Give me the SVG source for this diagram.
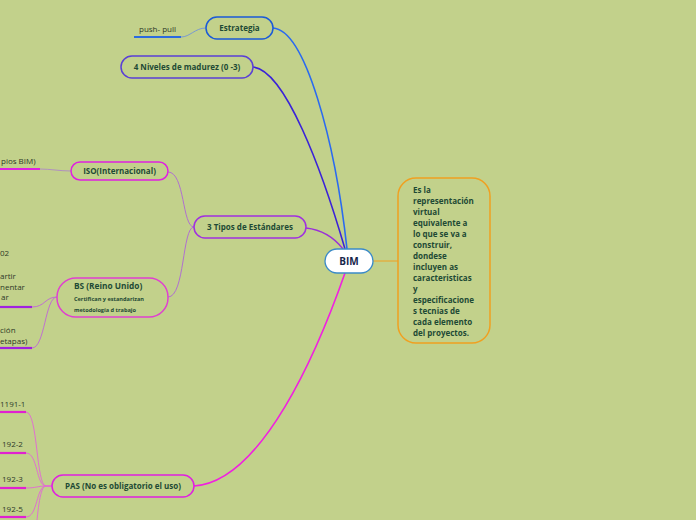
<svg xmlns="http://www.w3.org/2000/svg" width="696" height="520" viewBox="0 0 696 520">
<style>
.node{fill:none;stroke-width:1.5}
.t{font-family:"Open Sans","Noto Sans","Liberation Sans",sans-serif;font-weight:bold;fill:#1e4a35;font-size:8px}
.leaf{font-family:"Open Sans","Noto Sans","Liberation Sans",sans-serif;fill:#2e3a28;font-size:8px}
.c{fill:none}
</style>
<rect width="696" height="520" fill="#c2d18b"/>
<g id="connectors">
<path class="c" d="M273,28 C305,30 335,140 347,249" stroke="#2a6af0" stroke-width="1.6"/>
<path class="c" d="M253,67 C285,70 322,170 345,249" stroke="#3a22d8" stroke-width="1.6"/>
<path class="c" d="M306,228 C324,230 336,240 343,249" stroke="#9a30d8" stroke-width="1.3"/>
<path class="c" d="M194,486 C262,482 318,350 345,273" stroke="#f020e0" stroke-width="1.6"/>
<path class="c" d="M373,261 L398,261" stroke="#f0a020" stroke-width="1"/>
<path class="c" d="M206,28 C195,28 190,37 181,37" stroke="#7a9ad0" stroke-width="1"/>
<path class="c" d="M194,227 C182,227 185,172 168,172" stroke="#b070d0" stroke-width="1"/>
<path class="c" d="M194,227 C182,227 185,297 168,297" stroke="#b070d0" stroke-width="1"/>
<path class="c" d="M71,171 C60,171 50,169 40,169" stroke="#b090c0" stroke-width="1"/>
<path class="c" d="M57,297 C45,297 45,307 32,307" stroke="#c070d0" stroke-width="1"/>
<path class="c" d="M57,297 C45,297 45,348 32,348" stroke="#c070d0" stroke-width="1"/>
<path class="c" d="M52,486 L46,486 C36,486 38,412 26,412" stroke="#e070d0" stroke-width="1"/>
<path class="c" d="M52,486 L46,486 C36,486 38,453 26,453" stroke="#e070d0" stroke-width="1"/>
<path class="c" d="M52,486 L46,486 C38,486 36,488 26,488" stroke="#e070d0" stroke-width="1"/>
<path class="c" d="M52,486 L46,486 C36,486 38,517 26,517" stroke="#e070d0" stroke-width="1"/>
<path class="c" d="M52,486 L46,486 C40,486 38,510 36,530" stroke="#e070d0" stroke-width="1"/>
</g>
<g id="bim">
<rect x="325" y="249" width="48" height="24" rx="12" fill="#ffffff" stroke="#3a8ac8" stroke-width="1.3"/>
<text x="349" y="264.5" text-anchor="middle" font-family="Open Sans, Noto Sans, Liberation Sans, sans-serif" font-weight="bold" font-size="10" fill="#16264a">BIM</text>
</g>
<g id="descripcion">
<rect x="398" y="178" width="92" height="165" rx="18" class="node" stroke="#f0a020"/>
<text class="t" x="413" y="193">Es la</text>
<text class="t" x="413" y="204">representación</text>
<text class="t" x="413" y="215">virtual</text>
<text class="t" x="413" y="226">equivalente a</text>
<text class="t" x="413" y="237">lo que se va a</text>
<text class="t" x="413" y="248">construir,</text>
<text class="t" x="413" y="259">dondese</text>
<text class="t" x="413" y="270">incluyen as</text>
<text class="t" x="413" y="281">caracteristicas</text>
<text class="t" x="413" y="292">y</text>
<text class="t" x="413" y="303">especificacione</text>
<text class="t" x="413" y="314">s tecnias de</text>
<text class="t" x="413" y="325">cada elemento</text>
<text class="t" x="413" y="336">del proyectos.</text>
</g>
<g id="estrategia">
<rect x="206" y="17" width="67" height="22" rx="11" class="node" stroke="#1a5ad8"/>
<text class="t" x="239.5" y="31" text-anchor="middle">Estrategia</text>
</g>
<g id="push-pull">
<line x1="134" y1="37" x2="181" y2="37" stroke="#2a6ae0" stroke-width="2.2"/>
<text class="leaf" x="139" y="32">push- pull</text>
</g>
<g id="niveles">
<rect x="121" y="56" width="132" height="22" rx="11" class="node" stroke="#5a3fd6"/>
<text class="t" x="187" y="70" text-anchor="middle">4 Niveles de madurez (0 -3)</text>
</g>
<g id="tipos">
<rect x="194" y="216" width="112" height="22" rx="11" class="node" stroke="#a030e0"/>
<text class="t" x="250" y="230" text-anchor="middle">3 Tipos de Estándares</text>
</g>
<g id="iso">
<rect x="71" y="162" width="97" height="18" rx="9" class="node" stroke="#e020e0"/>
<text class="t" x="119.5" y="174" text-anchor="middle">ISO(Internacional)</text>
</g>
<g id="iso-hoja">
<line x1="0" y1="169" x2="40" y2="169" stroke="#e020e0" stroke-width="2.2"/>
<text class="leaf" x="1" y="164">pios BIM)</text>
</g>
<g id="bs">
<rect x="57" y="278" width="111" height="39" rx="19" class="node" stroke="#e040d0"/>
<text class="t" x="74" y="289" style="font-size:8.3px">BS (Reino Unido)</text>
<text class="t" x="74" y="301" style="font-size:5.6px">Certifican y estandarizan</text>
<text class="t" x="74" y="312" style="font-size:5.6px">metodología d trabajo</text>
</g>
<g id="bs-hoja-1">
<text class="leaf" x="0" y="256">02</text>
<text class="leaf" x="0" y="279">artir</text>
<text class="leaf" x="0" y="290">nentar</text>
<text class="leaf" x="1" y="300">ar</text>
<line x1="0" y1="307" x2="32" y2="307" stroke="#a020e0" stroke-width="2.2"/>
</g>
<g id="bs-hoja-2">
<text class="leaf" x="0" y="333">ción</text>
<text class="leaf" x="0" y="344"> etapas)</text>
<line x1="0" y1="348" x2="32" y2="348" stroke="#a020e0" stroke-width="2.2"/>
</g>
<g id="pas">
<rect x="52" y="475" width="142" height="22" rx="11" class="node" stroke="#e020e0"/>
<text class="t" x="123" y="489" text-anchor="middle">PAS (No es obligatorio el uso)</text>
</g>
<g id="pas-hojas">
<text class="leaf" x="0" y="407">1191-1</text>
<line x1="0" y1="412" x2="26" y2="412" stroke="#e020d0" stroke-width="2.2"/>
<text class="leaf" x="2" y="447">192-2</text>
<line x1="0" y1="453" x2="26" y2="453" stroke="#e020d0" stroke-width="2.2"/>
<text class="leaf" x="2" y="482">192-3</text>
<line x1="0" y1="488" x2="26" y2="488" stroke="#e020d0" stroke-width="2.2"/>
<text class="leaf" x="2" y="512">192-5</text>
<line x1="0" y1="517" x2="26" y2="517" stroke="#e020d0" stroke-width="2.2"/>
</g>
</svg>
